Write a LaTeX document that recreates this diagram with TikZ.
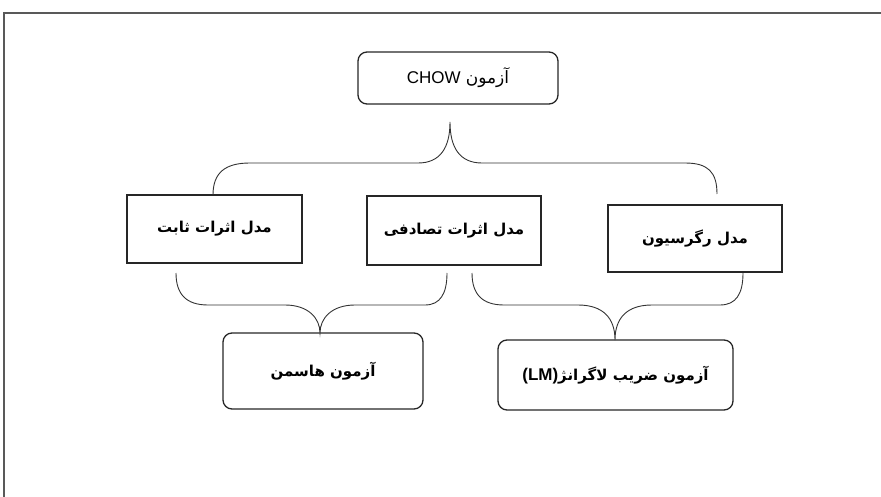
\documentclass[tikz,border=0pt]{standalone}
\usepackage{fontspec}
\TeXXeTstate=1
\newfontfamily\arabicfont[Script=Arabic]{DejaVu Sans}
\newfontfamily\latinfont{Liberation Sans}
\begin{document}
\begin{tikzpicture}[x=1pt,y=-1pt,
  sqbox/.style={draw=black!85,line width=1.3pt,inner sep=0pt,align=center},
  rbox/.style={sqbox,rounded corners=9pt},
  lbl/.style={font=\arabicfont\bfseries\fontsize{15}{17}\selectfont},
  brace/.style={draw=black!80,line width=0.9pt}]
\useasboundingbox (0,0) rectangle (881,497);
% frame (top and left edges only)
\draw[black!65,line width=2pt] (881,13) -- (4,13) -- (4,497);
% nodes
\node[rbox,minimum width=200pt,minimum height=52pt,font=\fontsize{17}{19}\selectfont] (chow) at (458,78)
  {{\latinfont CHOW} {\arabicfont\beginR آزمون\endR}};
\node[sqbox,lbl,minimum width=175pt,minimum height=68pt] (fixed) at (214.5,229) {\beginR مدل اثرات ثابت\endR};
\node[sqbox,lbl,minimum width=174pt,minimum height=69pt] (random) at (454,230.5) {\beginR مدل اثرات تصادفی\endR};
\node[sqbox,lbl,minimum width=174pt,minimum height=67pt] (reg) at (695,238.5) {\beginR مدل رگرسیون\endR};
\node[rbox,lbl,minimum width=200pt,minimum height=76pt] (haus) at (323,371) {\beginR آزمون هاسمن\endR};
\node[rbox,lbl,minimum width=235pt,minimum height=70pt] (lm) at (615.5,375)
  {{\latinfont\bfseries\fontsize{17}{19}\selectfont(LM)}\beginR آزمون ضریب لاگرانژ\endR};
% brace end points
\coordinate (t1) at (213,195);
\coordinate (ttip) at (450,122);
\coordinate (t2) at (717,194);
\coordinate (a1) at (176,273);
\coordinate (atip) at (320,333);
\coordinate (a2) at (447,273);
\coordinate (b1) at (472,273);
\coordinate (btip) at (615,340);
\coordinate (b2) at (743,273);
% top brace
\draw[brace] (t1) .. controls (213,172) and (226,163) .. (250,163) -- (418,163)
  .. controls (440,163) and (450,148) .. (ttip)
  .. controls (450,148) and (460,163) .. (482,163) -- (685,163)
  .. controls (708,163) and (717,172) .. (t2);
% lower left brace
\draw[brace] (a1) .. controls (176,294) and (186,305) .. (208,305) -- (285,305)
  .. controls (308,305) and (320,318) .. (atip)
  .. controls (320,318) and (332,305) .. (355,305) -- (425,305)
  .. controls (440,305) and (447,294) .. (a2);
% lower right brace
\draw[brace] (b1) .. controls (472,294) and (482,305) .. (504,305) -- (578,305)
  .. controls (603,305) and (615,318) .. (btip)
  .. controls (615,318) and (627,305) .. (652,305) -- (720,305)
  .. controls (736,305) and (743,294) .. (b2);
\end{tikzpicture}
\end{document}
